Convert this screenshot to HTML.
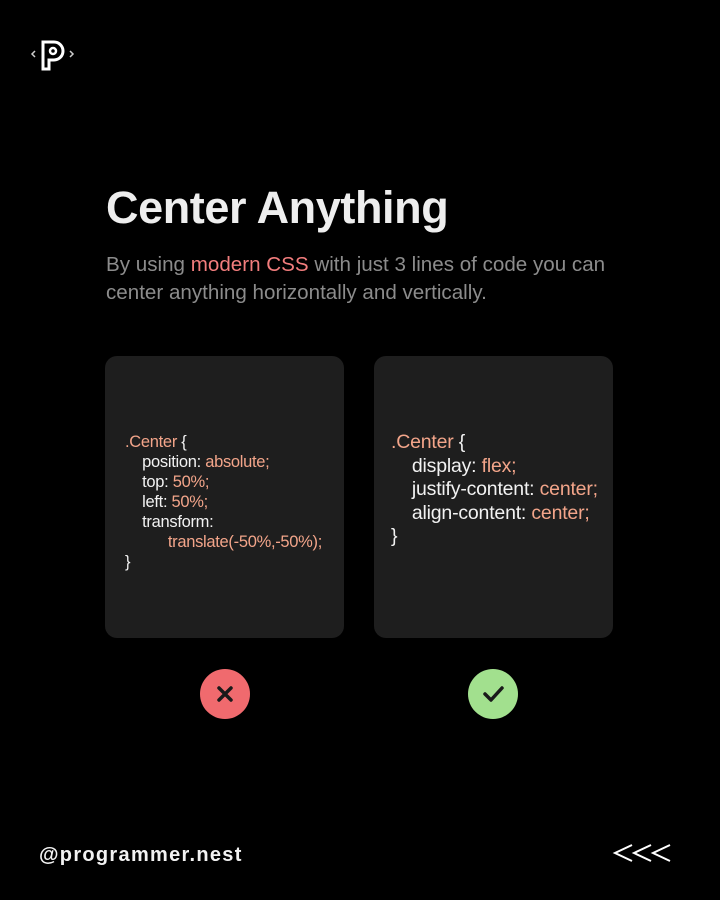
<!DOCTYPE html>
<html><head><style>
body{margin:0;width:720px;height:900px;background:#000;position:relative;overflow:hidden;font-family:"Liberation Sans",sans-serif;}
.abs{position:absolute;}
.card{position:absolute;top:356px;width:239px;height:282px;background:#1e1e1e;border-radius:12px;}
.o{color:#f3a58a;}
.code{position:absolute;color:#f2f2f2;white-space:pre;}
</style></head><body>
<svg class="abs" style="left:30px;top:38px" width="50" height="36" viewBox="0 0 50 36">
<path d="M5 13 L2 16 L5 19" stroke="#ccc" stroke-width="1.5" fill="none"/>
<path d="M40 13 L43 16 L40 19" stroke="#ccc" stroke-width="1.5" fill="none"/>
<path d="M13 4 H24 A9 9 0 0 1 24 22 H19 V31 H13 Z" stroke="#fff" stroke-width="3" fill="none"/>
<circle cx="23" cy="13" r="3" stroke="#fff" stroke-width="2.5" fill="none"/>
</svg>
<div class="abs" style="left:106px;top:182px;font-size:45px;font-weight:bold;color:#eeeeee;letter-spacing:-0.4px;">Center Anything</div>
<div class="abs" style="left:106px;top:251px;font-size:20.6px;line-height:28px;color:#8c8c8c;letter-spacing:0px;">By using <span style="color:#f27d7d">modern CSS</span> with just 3 lines of code you can<br>center anything horizontally and vertically.</div>
<div class="card" style="left:105px"></div>
<div class="card" style="left:374px"></div>
<div class="code" style="left:125px;top:432px;font-size:16.5px;line-height:20px;letter-spacing:-0.3px;"><span class="o">.Center</span> {
    position: <span class="o">absolute;</span>
    top: <span class="o">50%;</span>
    left: <span class="o">50%;</span>
    transform:
          <span class="o">translate(-50%,-50%);</span>
}</div>
<div class="code" style="left:391px;top:431px;font-size:19.5px;line-height:23.5px;letter-spacing:-0.2px;"><span class="o">.Center</span> {
    display: <span class="o">flex;</span>
    justify-content: <span class="o">center;</span>
    align-content: <span class="o">center;</span>
}</div>
<svg class="abs" style="left:0;top:0" width="720" height="900">
<circle cx="225" cy="694" r="25" fill="#f06a6e"/>
<path d="M219 688 L231 700 M231 688 L219 700" stroke="#1a1a1a" stroke-width="3.5" stroke-linecap="round"/>
<circle cx="493" cy="694" r="25" fill="#a2e08e"/>
<path d="M485 694 L491 700 L502 688" stroke="#1a1a1a" stroke-width="3.5" fill="none" stroke-linecap="round" stroke-linejoin="round"/>
<path d="M632 845 L615 853 L632 861 M651 845 L634 853 L651 861 M670 845 L653 853 L670 861" stroke="#fff" stroke-width="2" fill="none"/>
</svg>
<div class="abs" style="left:39px;top:844px;font-size:20px;font-weight:bold;color:#f2f2f2;letter-spacing:1.3px;">@programmer.nest</div>
</body></html>
